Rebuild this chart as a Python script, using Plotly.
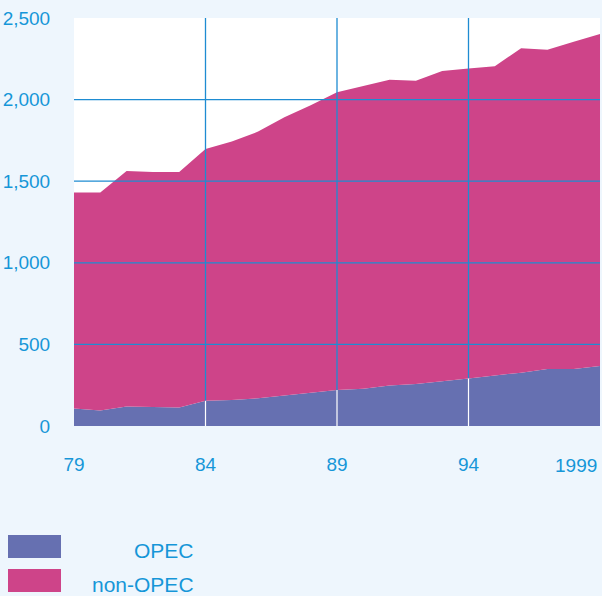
import plotly.graph_objects as go

years = list(range(1979, 2000))
opec = [107, 95, 119, 116, 114, 154, 160, 170, 187, 203, 221, 229, 248, 258, 274,
        291, 309, 327, 350, 350, 368]
total = [1431, 1430, 1562, 1557, 1557, 1698, 1743, 1804, 1892, 1965, 2045, 2084,
         2121, 2116, 2176, 2190, 2204, 2315, 2306, 2354, 2402]
non_opec = [t - o for t, o in zip(total, opec)]

x_tick_vals = [1979, 1984, 1989, 1994]
x_tick_text = ["79", "84", "89", "94"]
last_label = "1999"
y_tick_vals = [0, 500, 1000, 1500, 2000, 2500]
y_tick_text = ["0", "500", "1,000", "1,500", "2,000", "2,500"]
legend_names = ["OPEC", "non-OPEC"]

C_OPEC = "#6670B1"
C_NON = "#CE4489"
C_TEXT = "#1696D8"
C_GRID = "#1E8CD2"
C_BG = "#EEF6FD"
FONT = "Liberation Sans, Arial, sans-serif"
FS = 19
FS_LEG = 21

fig = go.Figure()
fig.add_trace(go.Scatter(x=years, y=opec, stackgroup="one", mode="none",
                         fillcolor=C_OPEC, name=legend_names[0], showlegend=False,
                         hoverinfo="skip"))
fig.add_trace(go.Scatter(x=years, y=non_opec, stackgroup="one", mode="none",
                         fillcolor=C_NON, name=legend_names[1], showlegend=False,
                         hoverinfo="skip"))

# horizontal grid lines drawn over the areas
for v in y_tick_vals[1:-1]:
    fig.add_trace(go.Scatter(x=[years[0], years[-1]], y=[v, v], mode="lines",
                             line=dict(color=C_GRID, width=1.3), showlegend=False,
                             hoverinfo="skip"))
# vertical grid lines: blue above OPEC, white inside OPEC
for xv in x_tick_vals[1:]:
    ov = opec[years.index(xv)]
    fig.add_trace(go.Scatter(x=[xv, xv], y=[ov, y_tick_vals[-1]], mode="lines",
                             line=dict(color=C_GRID, width=1.3), showlegend=False,
                             hoverinfo="skip"))
    fig.add_trace(go.Scatter(x=[xv, xv], y=[0, ov], mode="lines",
                             line=dict(color="#FFFFFF", width=1.2), showlegend=False,
                             hoverinfo="skip"))

fig.update_xaxes(range=[years[0], years[-1]], tickvals=x_tick_vals, ticktext=x_tick_text,
                 showgrid=False, zeroline=False, showline=False,
                 ticks="outside", ticklen=21, tickcolor="rgba(0,0,0,0)",
                 tickfont=dict(family=FONT, size=FS, color=C_TEXT))
fig.update_yaxes(range=[0, 2500], tickvals=y_tick_vals, ticktext=y_tick_text,
                 showgrid=False, zeroline=False, showline=False,
                 ticks="outside", ticklen=19, tickcolor="rgba(0,0,0,0)",
                 tickfont=dict(family=FONT, size=FS, color=C_TEXT))

L, R, T, B = 74, 2, 18, 170
W, H = 602, 596
pw, ph = W - L - R, H - T - B

def px(xp):
    return (xp - L) / pw

def py(yp):
    return (H - B - yp) / ph

annotations = [dict(x=years[-1], xref="x", y=0, yref="paper", text=last_label,
                    xanchor="right", yanchor="middle", xshift=-1, yshift=-39,
                    showarrow=False, font=dict(family=FONT, size=FS, color=C_TEXT))]
shapes = []
boxes = [(535, 558), (569, 592)]
text_y = [550.5, 584]
for (y0, y1), ty, name, col in zip(boxes, text_y, legend_names, [C_OPEC, C_NON]):
    shapes.append(dict(type="rect", xref="paper", yref="paper", x0=px(8), x1=px(61),
                       y0=py(y1), y1=py(y0), fillcolor=col, line=dict(width=0)))
    annotations.append(dict(x=px(196), xref="paper", y=py(ty), yref="paper", text=name,
                            xanchor="right", yanchor="middle", showarrow=False,
                            font=dict(family=FONT, size=FS_LEG, color=C_TEXT)))

fig.update_layout(width=W, height=H, margin=dict(l=L, r=R, t=T, b=B, pad=0),
                  paper_bgcolor=C_BG, plot_bgcolor="#FFFFFF",
                  shapes=shapes, annotations=annotations, showlegend=False)

fig.write_html("out.html", config={"displayModeBar": False},
               post_script="document.body.style.margin='0';"
                           "document.body.style.overflow='hidden';"
                           "document.documentElement.style.background='" + C_BG + "';")
